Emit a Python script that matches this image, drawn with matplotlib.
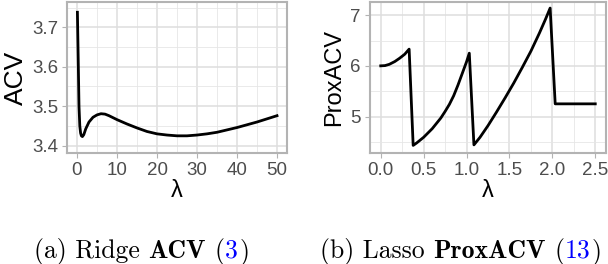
import matplotlib
matplotlib.use('Agg')
import matplotlib.pyplot as plt
from matplotlib.ticker import MultipleLocator

# ridge ACV curve
ridge_lam = [0.1, 0.3, 0.5, 0.7, 0.9, 1.1, 1.35, 1.7, 2.2, 3.0, 4.0, 5.0, 6.0, 7.0, 8.0,
             10.0, 12.5, 15.0, 17.5, 20.0, 22.5, 25.0, 27.5, 30.0, 32.5, 35.0, 37.5,
             40.0, 42.5, 45.0, 47.5, 50.0]
ridge_acv = [3.738, 3.62, 3.50, 3.45, 3.432, 3.425, 3.423, 3.428, 3.443, 3.460, 3.472,
             3.478, 3.481, 3.480, 3.476, 3.466, 3.455, 3.445, 3.436, 3.430, 3.427,
             3.425, 3.425, 3.427, 3.430, 3.434, 3.440, 3.446, 3.453, 3.460, 3.468, 3.476]

# lasso ProxACV curve
lasso_lam = [0.0, 0.05, 0.1, 0.164, 0.22, 0.28, 0.331,
             0.378, 0.42, 0.5, 0.6, 0.7, 0.75, 0.8, 0.85, 0.9, 0.95, 1.0, 1.032,
             1.086, 1.157, 1.25, 1.35, 1.45, 1.55, 1.65, 1.75, 1.85, 1.92, 1.974,
             2.033, 2.2, 2.35, 2.5]
lasso_prox = [6.0, 6.005, 6.03, 6.085, 6.15, 6.23, 6.33,
              4.43, 4.48, 4.59, 4.76, 4.97, 5.10, 5.24, 5.41, 5.62, 5.85, 6.08, 6.25,
              4.44, 4.59, 4.82, 5.09, 5.37, 5.66, 5.97, 6.29, 6.65, 6.92, 7.14,
              5.25, 5.25, 5.25, 5.25]

W, H = 608, 264
fig = plt.figure(figsize=(W / 100, H / 100), dpi=100)
plt.rcParams['font.family'] = ['Liberation Sans', 'DejaVu Sans']

ax1 = fig.add_axes([67 / W, 1 - 153 / H, 220 / W, 151 / H])
ax2 = fig.add_axes([370 / W, 1 - 153 / H, 236 / W, 151 / H])


def style(ax):
    ax.set_facecolor('white')
    ax.grid(which='major', color='#DEDEDE', linewidth=1.1, zorder=0)
    ax.grid(which='minor', color='#E6E6E6', linewidth=0.6, zorder=0)
    ax.set_axisbelow(True)
    for s in ax.spines.values():
        s.set_color('#B3B3B3')
        s.set_linewidth(1.5)
    ax.tick_params(which='major', length=3.5, width=0.8, color='#B3B3B3',
                   labelcolor='#4D4D4D', labelsize=13.5, pad=3)
    ax.tick_params(which='minor', length=0)


ax1.plot(ridge_lam, ridge_acv, color='black', linewidth=2.0)
ax1.set_xlim(-2.5, 52.5)
ax1.set_ylim(3.3815, 3.764)
ax1.xaxis.set_major_locator(MultipleLocator(10))
ax1.xaxis.set_minor_locator(MultipleLocator(5))
ax1.yaxis.set_major_locator(MultipleLocator(0.1))
ax1.yaxis.set_minor_locator(MultipleLocator(0.05))
ax1.yaxis.set_major_formatter(lambda v, p: f'{v:.1f}')
ax1.xaxis.set_major_formatter(lambda v, p: f'{v:.0f}')
style(ax1)
ax1.set_xlabel('λ', fontsize=17, labelpad=1)
ax1.set_ylabel('ACV', fontsize=19, labelpad=3)

ax2.plot(lasso_lam, lasso_prox, color='black', linewidth=2.0)
ax2.set_xlim(-0.125, 2.625)
ax2.set_ylim(4.28, 7.26)
ax2.xaxis.set_major_locator(MultipleLocator(0.5))
ax2.xaxis.set_minor_locator(MultipleLocator(0.25))
ax2.yaxis.set_major_locator(MultipleLocator(1))
ax2.yaxis.set_minor_locator(MultipleLocator(0.5))
ax2.xaxis.set_major_formatter(lambda v, p: f'{v:.1f}')
ax2.yaxis.set_major_formatter(lambda v, p: f'{v:.0f}')
style(ax2)
ax2.set_xlabel('λ', fontsize=17, labelpad=1)
ax2.set_ylabel('ProxACV', fontsize=17, labelpad=4)


def caption(pieces, xc, ybase):
    texts = []
    for s, c, fam, gap in pieces:
        t = fig.text(0, ybase, s, color=c, family=fam, fontsize=18.5, va='baseline')
        texts.append((t, gap))
    fig.canvas.draw()
    r = fig.canvas.get_renderer()
    widths = [t.get_window_extent(r).width + g for t, g in texts]
    x = xc - sum(widths) / 2
    for (t, g), w in zip(texts, widths):
        t.set_position((x / W, ybase))
        x += w


sp = 8.5
caption([('(a) Ridge', 'black', 'cmr10', sp),
         ('ACV', 'black', 'cmb10', sp),
         ('(', 'black', 'cmr10', 1),
         ('3', 'blue', 'cmr10', 1),
         (')', 'black', 'cmr10', 0)], 141.5, 6 / H)
caption([('(b) Lasso', 'black', 'cmr10', sp),
         ('ProxACV', 'black', 'cmb10', sp),
         ('(', 'black', 'cmr10', 1),
         ('13', 'blue', 'cmr10', 1),
         (')', 'black', 'cmr10', 0)], 461, 6 / H)

fig.savefig('out.png', dpi=100)
